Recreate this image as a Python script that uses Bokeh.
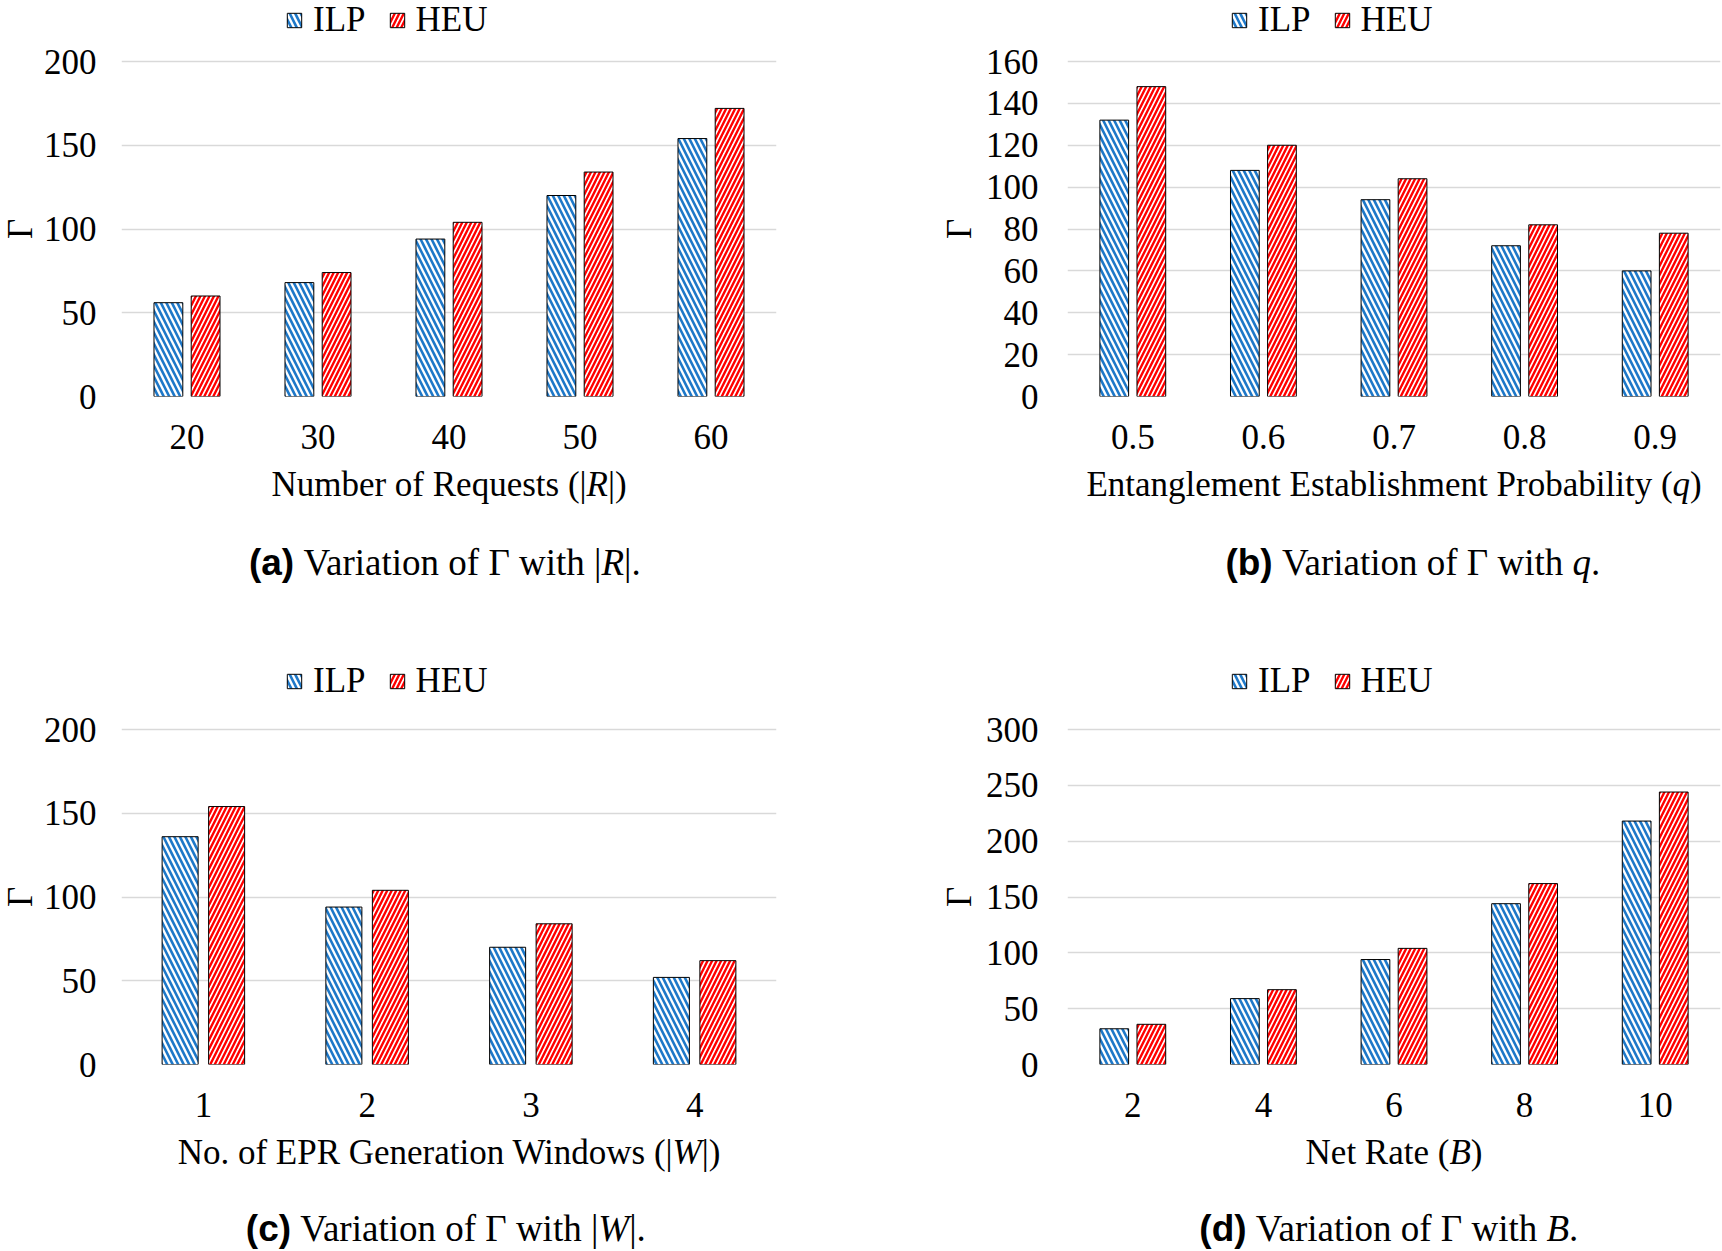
import glob
from math import pi
from bokeh.plotting import figure
from bokeh.models import (FactorRange, Range1d, ColumnDataSource, FixedTicker,
                          Legend, LegendItem, Label)
from bokeh.transform import dodge
from bokeh.layouts import column, row
from bokeh.embed import file_html
from bokeh.resources import INLINE

# ---------------- data ----------------
req_cats = ["20", "30", "40", "50", "60"]
req_ilp = [56, 68, 94, 120, 154]
req_heu = [60, 74, 104, 134, 172]

q_cats = ["0.5", "0.6", "0.7", "0.8", "0.9"]
q_ilp = [132, 108, 94, 72, 60]
q_heu = [148, 120, 104, 82, 78]

w_cats = ["1", "2", "3", "4"]
w_ilp = [136, 94, 70, 52]
w_heu = [154, 104, 84, 62]

b_cats = ["2", "4", "6", "8", "10"]
b_ilp = [32, 59, 94, 144, 218]
b_heu = [36, 67, 104, 162, 244]

series_names = ["ILP", "HEU"]
y_ticks_a = [0, 50, 100, 150, 200]
y_ticks_b = [0, 20, 40, 60, 80, 100, 120, 140, 160]
y_ticks_c = [0, 50, 100, 150, 200]
y_ticks_d = [0, 50, 100, 150, 200, 250, 300]

# ---------------- styling helpers ----------------
SERIF = "Liberation Serif"
SANS = "Liberation Sans"
BLUE = "#1e78c8"
RED = "#ff0000"

ROMAN = {' ': 250, '(': 333, ')': 333, '|': 200, '.': 250,
         'B': 667, 'E': 611, 'G': 722, 'N': 722, 'P': 556, 'R': 667, 'V': 722, 'W': 944,
         'a': 444, 'b': 500, 'd': 500, 'e': 444, 'f': 333, 'g': 500, 'h': 500, 'i': 278,
         'l': 278, 'm': 778, 'n': 500, 'o': 500, 'q': 500, 'r': 333, 's': 389, 't': 278,
         'u': 500, 'w': 722, 'y': 500, '\u0393': 578}
ITALIC = {'R': 611, 'q': 500, 'W': 833, 'B': 611, ' ': 250}
SANSB = {'(': 333, ')': 333, 'a': 556, 'b': 611, 'c': 556, 'd': 611, ' ': 278}
STYLES = {"r": (SERIF, "normal", ROMAN, "LiberationSerif-Regular.ttf"),
          "i": (SERIF, "italic", ITALIC, "LiberationSerif-Italic.ttf"),
          "sb": (SANS, "bold", SANSB, "LiberationSans-Bold.ttf")}

_font_cache = {}


def _pil_font(fname, size):
    key = (fname, size)
    if key not in _font_cache:
        font = None
        try:
            from PIL import ImageFont
            hits = []
            for root in ("/usr/share/fonts", "/usr/local/share/fonts", "/usr/share"):
                hits = glob.glob(f"{root}/**/{fname}", recursive=True)
                if hits:
                    break
            if hits:
                font = ImageFont.truetype(hits[0], size)
        except Exception:
            font = None
        _font_cache[key] = font
    return _font_cache[key]


def tw(s, st, size):
    if not s:
        return 0.0
    font = _pil_font(STYLES[st][3], size)
    if font is not None:
        try:
            return float(font.getlength(s))
        except Exception:
            pass
    table = STYLES[st][2]
    return sum(table.get(ch, 500) for ch in s) / 1000.0 * size


def blank_fig(w, h, plot_h=None, mbb=0):
    ph = h - mbb if plot_h is None else plot_h
    f = figure(width=w, height=h, x_range=Range1d(0, w), y_range=Range1d(ph, 0),
               x_axis_type=None, y_axis_type=None, output_backend="svg",
               toolbar_location=None, min_border=0, min_border_bottom=mbb)
    f.outline_line_color = None
    f.background_fill_color = "white"
    f.border_fill_color = "white"
    return f


def add_line(f, segs, cx, cy, size):
    total = sum(tw(t, st, size) for t, st in segs)
    x = cx - total / 2.0
    for t, st in segs:
        font, style = STYLES[st][0], STYLES[st][1]
        lead = len(t) - len(t.lstrip(' '))
        core = t.strip(' ')
        trail = len(t) - len(t.rstrip(' '))
        x += tw(' ' * lead, st, size)
        f.add_layout(Label(x=x, y=cy, text=core, text_font=font, text_font_style=style,
                           text_font_size=f"{size}px", text_color="black",
                           text_align="left", text_baseline="middle"))
        x += tw(core, st, size) + tw(' ' * trail, st, size)


FRAME_H = 335      # pixel height from 0 to the top tick
MBB = 68


def make_panel(cats, ilp, heu, ymax, yticks, col_w, col_h, gw, gamma_x, mbl, mbr, ystand,
               top_gap, legend_c, xl_y, cap_y, cap_off, xlabel_segs, caption_segs):
    chart_w = col_w - gw
    fw = chart_w - mbl - mbr
    fh = FRAME_H + top_gap
    chart_h = fh + MBB
    cap_h = col_h - chart_h
    y_end = ymax + top_gap * ymax / FRAME_H

    p = figure(x_range=FactorRange(*cats), y_range=Range1d(0, y_end),
               width=chart_w, height=chart_h, output_backend="svg",
               toolbar_location=None, min_border_left=mbl, min_border_right=mbr,
               min_border_top=0, min_border_bottom=MBB)
    p.outline_line_color = None
    p.background_fill_color = "white"
    p.border_fill_color = "white"

    src = ColumnDataSource(dict(cat=cats, ilp=ilp, heu=heu))
    r1 = p.vbar(x=dodge("cat", -0.142, range=p.x_range), top="ilp", width=0.22,
                source=src, fill_color="white", line_color="black", line_width=1,
                hatch_pattern="left_diagonal_line", hatch_color=BLUE,
                hatch_scale=11, hatch_weight=2.6)
    r2 = p.vbar(x=dodge("cat", 0.142, range=p.x_range), top="heu", width=0.22,
                source=src, fill_color="white", line_color="black", line_width=1,
                hatch_pattern="right_diagonal_line", hatch_color=RED,
                hatch_scale=9, hatch_weight=2.4)

    p.xgrid.grid_line_color = None
    p.ygrid.grid_line_color = "#d9d9d9"
    p.ygrid.grid_line_width = 1.3
    p.yaxis.ticker = FixedTicker(ticks=yticks)

    for ax in (p.xaxis[0], p.yaxis[0]):
        ax.axis_line_color = None
        ax.major_tick_line_color = None
        ax.minor_tick_line_color = None
        ax.major_tick_out = 0
        ax.major_tick_in = 0
        ax.major_label_text_font = SERIF
        ax.major_label_text_font_size = "35px"
        ax.major_label_text_color = "black"
    p.yaxis.major_label_standoff = ystand
    p.xaxis.major_label_standoff = 28

    vy = fh - (legend_c + 20)
    leg = Legend(items=[LegendItem(label=series_names[0], renderers=[r1]),
                        LegendItem(label=series_names[1], renderers=[r2])],
                 location=(fw / 2.0 - 163.5, vy), orientation="horizontal",
                 glyph_width=18, glyph_height=18, label_standoff=10, spacing=22,
                 padding=0, margin=0, border_line_color=None,
                 background_fill_alpha=0, label_text_font=SERIF,
                 label_text_font_size="35px", label_text_color="black",
                 label_height=40)
    p.add_layout(leg)

    # Gamma axis title, in a narrow strip left of the chart (same frame height)
    g = blank_fig(gw, chart_h, plot_h=fh, mbb=MBB)
    g.add_layout(Label(x=gamma_x, y=top_gap + FRAME_H / 2.0, text="\u0393", angle=pi / 2,
                       text_font=SERIF, text_font_size="35px", text_align="center",
                       text_baseline="middle", text_color="black"))

    # axis title and caption strip
    c = blank_fig(col_w, cap_h)
    cx = gw + mbl + fw / 2.0
    add_line(c, xlabel_segs, cx, xl_y, 35)
    add_line(c, caption_segs, cx + cap_off, cap_y, 37)
    return column(row(g, p), c)


LEFT_W, RIGHT_W = 861, 860
TOP_H, BOT_H = 617, 633

pa = make_panel(req_cats, req_ilp, req_heu, 200, y_ticks_a, LEFT_W, TOP_H, 39, 19.5, 82, 85, 25,
                61, 20, 20, 98, -4.5,
                [("Number of Requests (|", "r"), ("R", "i"), ("|)", "r")],
                [("(a)", "sb"), (" Variation of \u0393 with |", "r"), ("R", "i"), ("|.", "r")])
pb = make_panel(q_cats, q_ilp, q_heu, 160, y_ticks_b, RIGHT_W, TOP_H, 118, 98, 88, 1, 29,
                61, 20, 20, 98, 18.5,
                [("Entanglement Establishment Probability (", "r"), ("q", "i"), (")", "r")],
                [("(b)", "sb"), (" Variation of \u0393 with ", "r"), ("q", "i"), (".", "r")])
pc = make_panel(w_cats, w_ilp, w_heu, 200, y_ticks_c, LEFT_W, BOT_H, 39, 19.5, 82, 85, 25,
                112, 64, 20, 96, -3.5,
                [("No. of EPR Generation Windows (|", "r"), ("W", "i"), ("|)", "r")],
                [("(c)", "sb"), (" Variation of \u0393 with |", "r"), ("W", "i"), ("|.", "r")])
pd = make_panel(b_cats, b_ilp, b_heu, 300, y_ticks_d, RIGHT_W, BOT_H, 118, 98, 88, 1, 29,
                112, 64, 20, 96, -5.5,
                [("Net Rate (", "r"), ("B", "i"), (")", "r")],
                [("(d)", "sb"), (" Variation of \u0393 with ", "r"), ("B", "i"), (".", "r")])

layout = column(row(pa, pb), row(pc, pd))
open("out.html", "w").write(file_html(layout, INLINE))
